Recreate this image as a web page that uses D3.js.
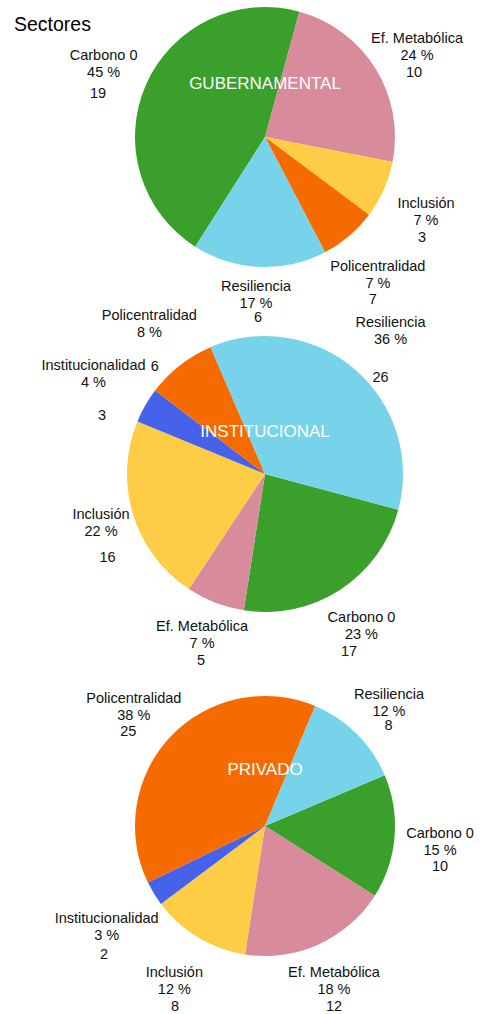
<!DOCTYPE html>
<html>
<head>
<meta charset="utf-8">
<script src="https://cdn.jsdelivr.net/npm/d3@7"></script>
<style>
  html, body { margin: 0; padding: 0; background: #fff; }
  svg { display: block; font-family: "Liberation Sans", Arial, Helvetica, sans-serif; }
</style>
</head>
<body>
<svg id="chart" width="483" height="1014"></svg>
<script>
// Categories, in the order the slices run clockwise
const categories = ["Carbono 0", "Ef. Metabólica", "Inclusión", "Institucionalidad", "Policentralidad", "Resiliencia"];
const sectorNames = ["GUBERNAMENTAL", "INSTITUCIONAL", "PRIVADO"];

// Slice values per sector
const gubernamentalValues = [19, 10, 3, 0, 3, 7];
const institucionalValues = [17, 5, 16, 3, 6, 26];
const privadoValues = [10, 12, 8, 2, 25, 8];

// Count line printed under each percentage
const gubernamentalCounts = ["19", "10", "3", "", "7", "6"];
const institucionalCounts = ["17", "5", "16", "3", "6", "26"];
const privadoCounts = ["10", "12", "8", "2", "25", "8"];

const palette = ["#3aa02b", "#d78b9b", "#fecd45", "#4762ea", "#f56b00", "#77d3ea"];

// Geometry of each pie: centre, radius, rotation of the first slice (deg), label ring
const pieLayout = [
  { cx: 265, cy: 137, r: 130, start: 212.5, labelR: 170, titleDy: -52 },
  { cx: 265, cy: 474, r: 138, start: 105,   labelR: 178, titleDy: -41 },
  { cx: 265, cy: 826, r: 130, start: 67,    labelR: 170, titleDy: -55 }
];

// Per-label fine placement: [name dx, name dy, count dx, count gap below percentage]
const labelNudge = [
  [[-6, -8, -5.5, 21], [7.5, -4.4, -3, 17], [5.6, 2.1, -4, 17], [0, 0, 0, 17], [2.8, 4.5, -5, 16], [-1.6, -15.8, 2, 14]],
  [[-0.7, -1, -12.5, 17], [1.3, -9, -1, 17], [6.2, -7.2, 6.5, 26], [-17, -15.5, 8.5, 33], [-6, -13.7, 5.5, 34], [9, -12.5, -10, 38]],
  [[5.6, -1.6, 0, 16], [-1.2, -4.1, 0, 17.4], [-3.1, 5, 0.7, 17.4], [-13.1, 8.4, -2.7, 19], [-7.8, -6.1, -5.5, 16], [4.1, -6, -0.5, 14]]
];

const sectors = [
  { name: sectorNames[0], values: gubernamentalValues, counts: gubernamentalCounts },
  { name: sectorNames[1], values: institucionalValues, counts: institucionalCounts },
  { name: sectorNames[2], values: privadoValues, counts: privadoCounts }
];

const svg = d3.select("#chart");
const color = d3.scaleOrdinal().domain(categories).range(palette);
const pctFormat = d3.format(".0f");
const rad = Math.PI / 180;

svg.append("text")
  .attr("x", 14).attr("y", 31)
  .attr("font-size", 19.5)
  .attr("fill", "#000")
  .text("Sectores");

sectors.forEach((sector, si) => {
  const L = pieLayout[si];
  const rows = categories.map((c, i) => ({ category: c, value: sector.values[i], count: sector.counts[i], index: i }));
  const total = d3.sum(rows, d => d.value);

  const pie = d3.pie()
    .sort(null)
    .value(d => d.value)
    .startAngle(L.start * rad)
    .endAngle(L.start * rad + 2 * Math.PI);
  const arcs = pie(rows).filter(a => a.data.value > 0);
  const arc = d3.arc().innerRadius(0).outerRadius(L.r);

  const g = svg.append("g").attr("transform", `translate(${L.cx},${L.cy})`);

  g.selectAll("path.slice")
    .data(arcs)
    .join("path")
    .attr("class", "slice")
    .attr("d", arc)
    .attr("fill", d => color(d.data.category));

  g.append("text")
    .attr("x", 0).attr("y", L.titleDy)
    .attr("text-anchor", "middle")
    .attr("dominant-baseline", "middle")
    .attr("font-size", 17)
    .attr("fill", "#fff")
    .text(sector.name);

  const labels = g.selectAll("g.label")
    .data(arcs)
    .join("g")
    .attr("class", "label")
    .attr("transform", d => {
      const mid = (d.startAngle + d.endAngle) / 2;
      const n = labelNudge[si][d.data.index];
      const x = Math.sin(mid) * L.labelR + n[0];
      const y = -Math.cos(mid) * L.labelR + n[1];
      return `translate(${x},${y})`;
    })
    .attr("font-size", 14.5)
    .attr("fill", "#111")
    .attr("text-anchor", "middle");

  labels.append("text").attr("y", 0).text(d => d.data.category);
  labels.append("text").attr("y", 17).text(d => pctFormat(d.data.value / total * 100) + " %");
  labels.append("text")
    .attr("x", d => labelNudge[si][d.data.index][2])
    .attr("y", d => 17 + labelNudge[si][d.data.index][3])
    .text(d => d.data.count);
});
</script>
</body>
</html>
